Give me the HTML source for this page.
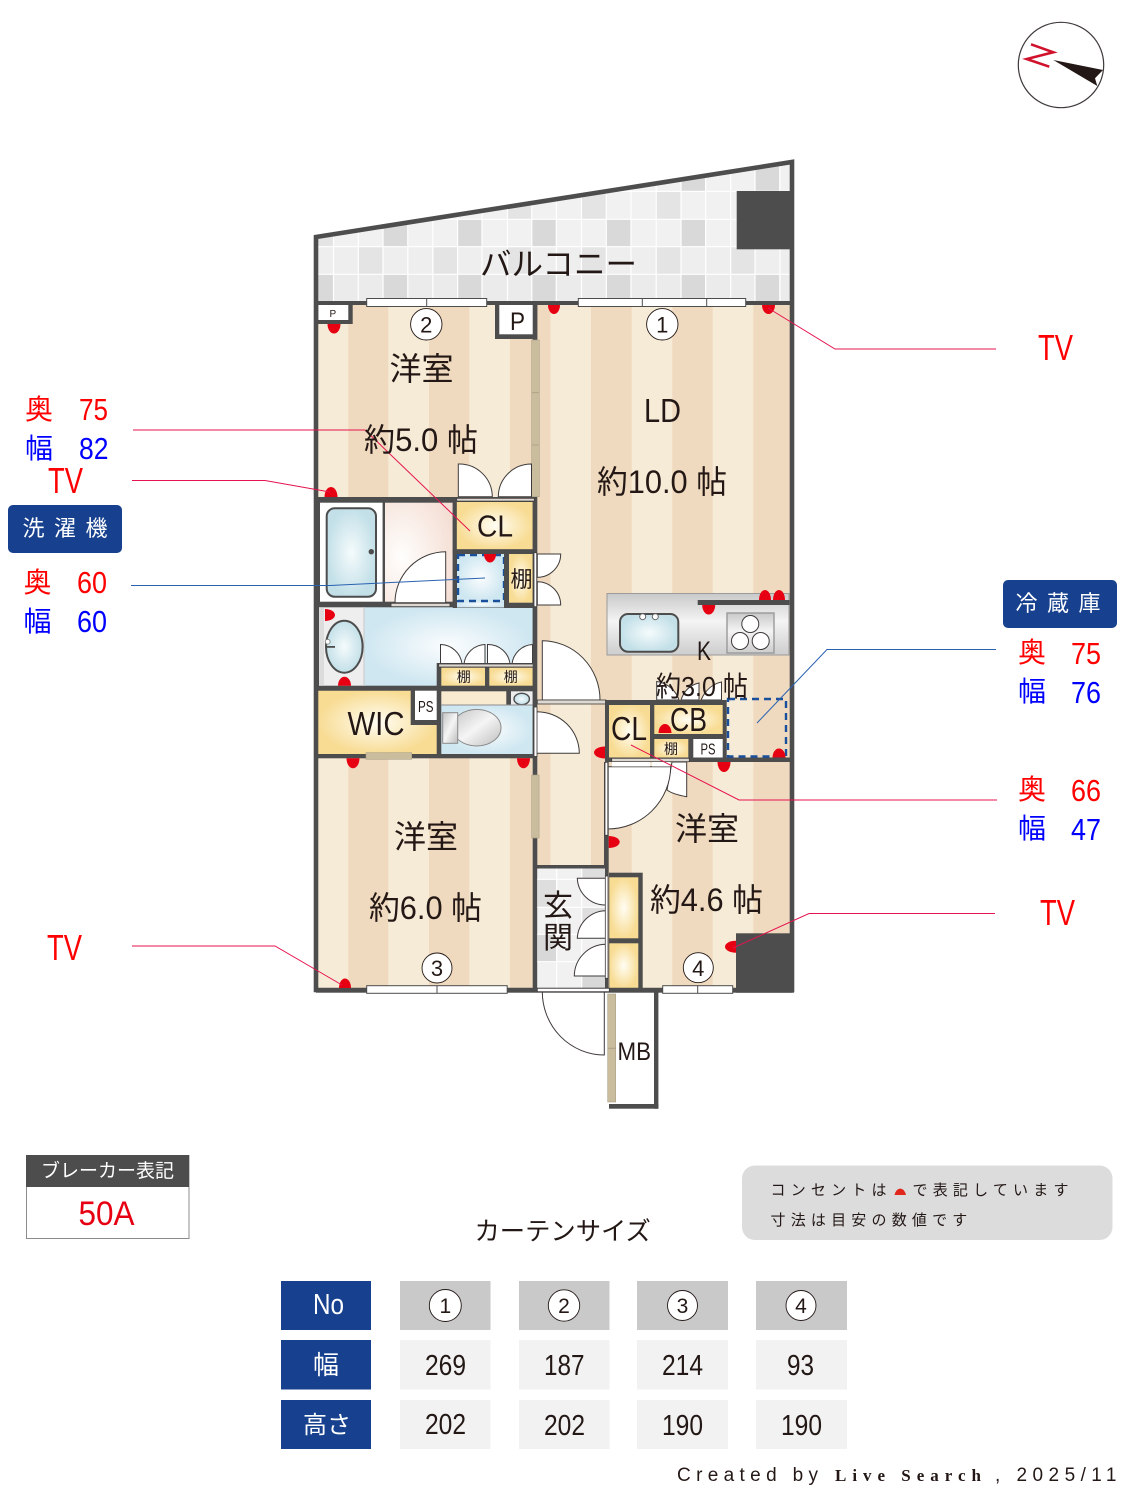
<!DOCTYPE html>
<html lang="ja"><head><meta charset="utf-8"><title>Floor plan</title>
<style>
html,body{margin:0;padding:0;background:#fff}
svg{display:block}
text{font-family:"Liberation Sans","Noto Sans CJK JP",sans-serif;fill:#231815}
.r{fill:#ff0000}.b{fill:#0000ff}.w{fill:#fff}
.door{fill:#fff;stroke:#3e3a39;stroke-width:1}
.sill{fill:#fff;stroke:#3e3a39;stroke-width:.8}
.gs{fill:#ded8d3;stroke:#3e3a39;stroke-width:.8}
.tan{fill:#c9bd9d;stroke:#aaa088;stroke-width:.6}
.win{fill:#fff;stroke:#4d4d4d;stroke-width:1}
.wall{fill:#4d4d4d}
.dot{fill:#e60012}
.ln{fill:none;stroke:#e5134f;stroke-width:1}
.lb{fill:none;stroke:#2a62b0;stroke-width:1}
.dash{fill:none;stroke:#1a4f9c;stroke-width:2.4;stroke-dasharray:7 5}
.cir{fill:#fff;stroke:#231815;stroke-width:.9}
</style></head><body>
<svg xmlns="http://www.w3.org/2000/svg" width="1125" height="1500" viewBox="0 0 1125 1500">
<defs>
<radialGradient id="y"><stop offset="0" stop-color="#fffdf3"/><stop offset="1" stop-color="#f8dc94"/></radialGradient>
<radialGradient id="bl"><stop offset="0" stop-color="#fbfdfe"/><stop offset="1" stop-color="#cfe7f1"/></radialGradient>
<radialGradient id="tb"><stop offset="0" stop-color="#f5fbfc"/><stop offset="1" stop-color="#c3e0e8"/></radialGradient>
<radialGradient id="pk" cx=".25" cy=".55" r=".85"><stop offset="0" stop-color="#fffefd"/><stop offset="1" stop-color="#f4ddd2"/></radialGradient>
<linearGradient id="st" x1="0" y1="0" x2="0" y2="1"><stop offset="0" stop-color="#c9c9ca"/><stop offset=".45" stop-color="#f4f4f4"/><stop offset="1" stop-color="#cdcdce"/></linearGradient>
<linearGradient id="gr" x1="0" y1="0" x2="1" y2="1"><stop offset="0" stop-color="#c4c4c4"/><stop offset=".5" stop-color="#f5f5f5"/><stop offset="1" stop-color="#bdbdbd"/></linearGradient>
<clipPath id="bal"><polygon points="316,237 792,162 792,303 316,303"/></clipPath>
</defs>

<!-- balcony -->
<g clip-path="url(#bal)">
<rect x="316" y="160" width="478" height="145" fill="#f1f1f2"/>
<rect x="316" y="247" width="478" height="27" fill="#eeeeef"/>
<rect x="316" y="274" width="478" height="30" fill="#ebebec"/>
<g fill="#d9d9da">
<rect x="318" y="274.5" width="15" height="27"/><rect x="383.5" y="274.5" width="24" height="27"/><rect x="458" y="274.5" width="24" height="27"/><rect x="532" y="274.5" width="24" height="27"/><rect x="606.5" y="274.5" width="24" height="27"/><rect x="681" y="274.5" width="24" height="27"/><rect x="755" y="274.5" width="24" height="27"/>
<rect x="383.5" y="219.5" width="24" height="27"/><rect x="458" y="219.5" width="24" height="27"/><rect x="532" y="219.5" width="24" height="27"/><rect x="606.5" y="219.5" width="24" height="27"/><rect x="681" y="219.5" width="24" height="27"/>
<rect x="681" y="160" width="24" height="31"/><rect x="755" y="160" width="24" height="31"/>
</g>
<g fill="#e4e4e5">
<rect x="358.5" y="247" width="24" height="27"/><rect x="433.5" y="247" width="24" height="27"/><rect x="508" y="247" width="24" height="27"/><rect x="582" y="247" width="24" height="27"/><rect x="656.5" y="247" width="24" height="27"/><rect x="731" y="247" width="24" height="27"/>
<rect x="508" y="192" width="24" height="27"/><rect x="582" y="192" width="24" height="27"/><rect x="656.5" y="192" width="24" height="27"/>
<rect x="318" y="237" width="15" height="10"/>
</g>
<g stroke="#fff" stroke-width="1.2" fill="none">
<path d="M333.5 160V303M358.3 160V303M383 160V303M407.8 160V303M432.8 160V303M457.6 160V303M482 160V303M507.5 160V303M531.8 160V303M556.3 160V303M581.5 160V303M606.3 160V303M631 160V303M656.2 160V303M681 160V303M705.7 160V303M730.7 160V303M755 160V303M780 160V303"/>
<path d="M316 246.7H792M316 274.3H792M316 219.3H792M316 191.3H792"/>
</g>
</g>

<!-- floor stripes -->
<rect x="316" y="303" width="476" height="687" fill="#f6ebd6"/>
<g fill="#f0dabf">
<rect x="348.3" y="303" width="40" height="687"/><rect x="429" y="303" width="40.3" height="687"/><rect x="510" y="303" width="40.5" height="687"/><rect x="591" y="303" width="40.7" height="687"/><rect x="672.3" y="303" width="40.4" height="687"/><rect x="753.3" y="303" width="38" height="687"/>
</g>

<!-- kitchen -->
<rect x="607" y="593.5" width="182" height="61.5" fill="url(#st)" stroke="#9b9b9b" stroke-width="1"/>
<rect x="697.7" y="600" width="92" height="5" class="wall"/>
<rect x="620" y="614" width="58.3" height="37.7" rx="8" fill="url(#tb)" stroke="#4d4d4d" stroke-width="2"/>
<circle cx="642.7" cy="616.7" r="3" fill="#fff" stroke="#666"/><circle cx="655.3" cy="616.7" r="3" fill="#fff" stroke="#666"/>
<rect x="727" y="613" width="47" height="40" fill="url(#st)" stroke="#999" stroke-width="1.4"/>
<g fill="#fff" stroke="#3e3a39"><circle cx="750.3" cy="624" r="8.5"/><circle cx="740" cy="641" r="8.5"/><circle cx="760.7" cy="641" r="8.5"/></g>

<!-- bath / dressing -->
<rect x="316" y="497" width="221" height="194" class="wall"/>
<rect x="320" y="502.7" width="62.7" height="99" fill="#fff"/>
<rect x="326.7" y="508.3" width="49.3" height="88.4" rx="8" fill="url(#tb)" stroke="#4d4d4d" stroke-width="2"/>
<circle cx="371.3" cy="551.7" r="2.7" fill="#4d4d4d"/>
<rect x="385" y="502.7" width="67.7" height="99" fill="url(#pk)"/>
<path d="M445.7 551.7V602.7H395A51 51 0 0 1 445.7 551.7Z" class="door"/>
<rect x="391" y="603.3" width="59" height="3.4" class="gs"/>
<!-- wash room -->
<rect x="319" y="607.3" width="45" height="78.4" fill="#eeeeef"/>
<rect x="319" y="607.3" width="5" height="78.4" fill="#dcdcdd"/>
<rect x="364" y="607.3" width="168.7" height="78.4" fill="url(#bl)"/>
<line x1="364" y1="607" x2="364" y2="686" stroke="#c8c8c8"/>
<ellipse cx="344.3" cy="646.7" rx="18.3" ry="26" fill="url(#tb)" stroke="#4d4d4d" stroke-width="2"/>
<rect x="326" y="646" width="9" height="1.8" fill="#4d4d4d"/>
<circle cx="327.7" cy="641.7" r="2.4" fill="#fff" stroke="#777" stroke-width=".8"/>
<!-- CL / washer -->
<rect x="456.7" y="502" width="76" height="47.3" fill="url(#y)"/>
<rect x="457" y="554" width="47" height="47" fill="url(#bl)"/>
<rect x="452.7" y="601" width="84" height="7" class="wall"/>
<rect x="457" y="601" width="47" height="6.5" fill="url(#bl)"/>
<rect x="458" y="555" width="46" height="46" class="dash"/>
<rect x="509" y="554" width="23.7" height="48.7" fill="url(#y)"/>
<!-- shelf doors in wash -->
<g class="door">
<path d="M440.5 664V644.5A22 22 0 0 1 462 664Z"/><path d="M485 664V644.5A22 22 0 0 0 464 664Z"/>
<path d="M487.5 664V644.5A22 22 0 0 1 510 664Z"/><path d="M532.5 664V644.5A22 22 0 0 0 512 664Z"/>
</g>
<rect x="436.7" y="663" width="100" height="23" class="wall"/>
<rect x="441.3" y="667.7" width="43.7" height="18" fill="url(#y)"/>
<rect x="489.3" y="667.7" width="43.4" height="18" fill="url(#y)"/>
<rect x="438.7" y="664" width="95.5" height="3" class="gs"/>

<!-- WIC etc -->
<rect x="316" y="686" width="221" height="72.3" class="wall"/>
<polygon points="318,690.7 410.7,690.7 410.7,725 436.7,725 436.7,754 318,754" fill="url(#y)"/>
<rect x="415" y="690.7" width="21.7" height="29.3" fill="#fff"/>
<rect x="366" y="752.7" width="45.7" height="6.6" class="tan"/>
<rect x="441.3" y="691.3" width="65" height="13.7" fill="#f8ebcf"/>
<rect x="511" y="691.3" width="21.7" height="13.7" fill="#ededee"/>
<ellipse cx="521.7" cy="699" rx="7.7" ry="5.7" fill="url(#tb)" stroke="#4d4d4d" stroke-width="1.4"/>
<rect x="441.3" y="705" width="91.4" height="49" fill="url(#bl)"/>
<line x1="441" y1="705" x2="533" y2="705" stroke="#8e8e8e"/>
<ellipse cx="476.7" cy="727.7" rx="24.3" ry="18.3" fill="url(#gr)" stroke="#8a8a8a"/>
<rect x="442.7" y="712.7" width="15" height="30.6" fill="url(#gr)" stroke="#8a8a8a"/>

<!-- room/outer walls -->
<rect x="532.7" y="303" width="4.6" height="687" class="wall"/>
<rect x="531.7" y="340" width="7.6" height="156.7" class="tan"/>
<path d="M531.7 392.7H539.3M531.7 445H539.3" stroke="#aaa088" stroke-width=".8"/>
<g class="door"><path d="M458.3 464A33 33 0 0 1 492.3 496.7H458.3Z"/><path d="M531.5 464A33 33 0 0 0 498.3 496.7H531.5Z"/></g>
<rect x="452.7" y="497" width="84" height="5" class="wall"/>
<rect x="456.7" y="498.3" width="77.6" height="2.8" class="gs"/>
<rect x="452.7" y="549.3" width="84" height="4.7" class="wall"/>
<rect x="504" y="551" width="5" height="56" class="wall"/>
<rect x="452.7" y="497" width="4" height="110" class="wall"/>
<rect x="382.7" y="502" width="2.3" height="100" class="wall"/>
<rect x="534" y="552.7" width="2.7" height="54" class="sill"/>
<g class="door"><path d="M537.3 554H560.7A23.4 23.4 0 0 1 537.3 577.3Z"/><path d="M560.7 605H537.3V581.7A23.4 23.4 0 0 1 560.7 605Z"/></g>
<rect x="531.7" y="775" width="7.4" height="63" class="tan"/>
<!-- hall doors -->
<path d="M542.3 640.7A58 59.3 0 0 1 600 700H542.3Z" class="door"/>
<rect x="537.3" y="700" width="68.7" height="4" class="gs"/>
<path d="M536.7 711.7A42.7 41.6 0 0 1 579.3 753.3H536.7Z" class="door"/>
<rect x="534" y="707" width="3" height="49.5" class="sill"/>

<!-- kitchen closets -->
<path d="M656.7 700V681.5C668 683 676 691 679 700ZM681 700C684 691 690 685 699 683V700ZM701 700C705 691 712 684 721.5 682V700Z" class="door"/>
<rect x="605" y="700" width="121.7" height="62" class="wall"/>
<rect x="609" y="705" width="41" height="52.7" fill="url(#y)"/>
<rect x="654.3" y="705" width="68.4" height="29" fill="url(#y)"/>
<rect x="654.3" y="739" width="34" height="18.7" fill="url(#y)"/>
<rect x="693.3" y="739" width="29.4" height="18.7" fill="#fff"/>
<rect x="605" y="757.5" width="187" height="4.5" class="wall"/>
<rect x="728" y="699" width="58" height="57.5" class="dash"/>
<rect x="611.7" y="758.3" width="77.6" height="3.4" class="gs"/>
<path d="M686.7 762V796.7C677 795 671 793 667 790L672 762Z" class="door"/>
<path d="M607.7 766.7H670.7A63 63 0 0 1 607.7 829Z" class="door"/>
<rect x="612" y="762" width="38" height="4.5" fill="#fff"/><rect x="652" y="762" width="18" height="4.5" fill="#fff"/>
<rect x="604" y="762" width="4.7" height="228" class="wall"/>
<rect x="605" y="762.3" width="2.8" height="73" class="sill"/>

<!-- genkan -->
<rect x="533" y="865" width="75" height="4" class="wall"/>
<rect x="537.3" y="868.5" width="67.7" height="120" fill="#f1f1f2"/>
<g fill="#dedede"><rect x="537.3" y="879.5" width="19.4" height="27.8"/><rect x="581.7" y="868.5" width="23.3" height="10.8"/><rect x="581.7" y="907.3" width="23.3" height="27"/><rect x="537.3" y="934.3" width="19.4" height="27.4" fill="#d8d8d9"/><rect x="581.7" y="961.7" width="23.3" height="26.6" fill="#d8d8d9"/></g>
<path d="M556.7 868.5V988M581.7 868.5V988M537.3 879.3H605M537.3 907.3H605M537.3 934.3H605M537.3 961.7H605" stroke="#fff" stroke-width="1.2" fill="none"/>
<g class="door"><path d="M577.3 878.3H606V905A28 28 0 0 1 577.3 878.3Z"/><path d="M577.3 938.3A29 29 0 0 1 606 910.7V938.3Z"/><path d="M574.3 976A32 32 0 0 1 606 944.3V976Z"/></g>
<rect x="605.3" y="876" width="2.7" height="102.3" class="sill"/>
<rect x="609" y="872.7" width="33.7" height="118" class="wall"/>
<rect x="609.3" y="877.3" width="29" height="61" fill="url(#y)"/>
<rect x="609.3" y="943.3" width="29" height="44.7" fill="url(#y)"/>
<rect x="736" y="933.3" width="58" height="59.4" class="wall"/>

<!-- P boxes -->
<rect x="316" y="303" width="36.7" height="21" class="wall"/>
<rect x="318.3" y="305" width="30" height="15" fill="#fff"/>
<rect x="495" y="303" width="42.3" height="36" class="wall"/>
<rect x="499.3" y="305" width="33.4" height="29.3" fill="#fff"/>

<!-- outer walls -->
<rect x="316" y="301" width="476" height="4" class="wall"/>
<rect x="316" y="988.3" width="476" height="4.4" class="wall"/>
<polygon points="316,237 792,162 792,990 316,990" fill="none" stroke="#4d4d4d" stroke-width="4.6" stroke-linejoin="miter"/>
<rect x="736.7" y="191" width="56" height="58.3" class="wall"/>
<rect x="537.3" y="988.3" width="72" height="3.4" class="sill"/>

<!-- outlets -->
<g class="dot">
<path d="M327.5 324A6.5 9.5 0 0 0 340.5 324Z"/>
<path d="M548 305A6 9 0 0 0 560 305Z"/>
<path d="M762 305A6.5 9 0 0 0 775 305Z"/>
<path d="M346.5 758.3A6.5 10 0 0 0 359.5 758.3Z"/>
<path d="M517 758.3A6.5 10 0 0 0 530 758.3Z"/>
<path d="M484 554A6 8.5 0 0 0 496 554Z"/>
<path d="M717.5 762A6.5 10 0 0 0 730.5 762Z"/>
<path d="M702.2 605A6.5 9.5 0 0 0 715.2 605Z"/>
<path d="M324.5 497A6.5 10 0 0 1 337.5 497Z"/>
<path d="M339 988A6 9.5 0 0 1 351 988Z"/>
<path d="M759 600A6 10 0 0 1 771 600Z"/>
<path d="M773 600A6 10 0 0 1 785 600Z"/>
<path d="M772.5 757.5A6.5 9 0 0 1 785.5 757.5Z"/>
<path d="M338 685.7A6.5 9 0 0 1 351 685.7Z"/>
<path d="M658.5 733A6.5 9 0 0 1 671.5 733Z"/>
<path d="M605 746.5A11 6 0 0 0 605 758.5Z"/>
<path d="M736 940.7A11 6 0 0 0 736 952.7Z"/>
<path d="M608.7 836A11 6 0 0 1 608.7 848Z"/>
<path d="M325 609A10 6 0 0 1 325 621Z"/>
</g>

<!-- windows -->
<rect x="366.7" y="298.5" width="120" height="8" class="win"/><path d="M426.7 298.5V306.5" stroke="#4d4d4d"/>
<rect x="578.3" y="298.5" width="167.4" height="8" class="win"/><path d="M642.3 298.5V306.5M706.7 298.5V306.5" stroke="#4d4d4d"/>
<rect x="366.7" y="985.7" width="140.5" height="7.6" class="win"/><path d="M437 985.7V993.3" stroke="#4d4d4d"/>
<rect x="662.7" y="985.7" width="70" height="7.6" class="win"/><path d="M697.7 985.7V993.3" stroke="#4d4d4d"/>

<!-- entrance, MB -->
<path d="M542.3 991.7A62 63.3 0 0 0 604.3 1055V991.7" fill="none" stroke="#3e3a39" stroke-width="1"/>
<rect x="654" y="990" width="4.4" height="118.7" class="wall"/>
<rect x="609" y="1104" width="49.4" height="4.7" class="wall"/>
<rect x="607.7" y="994" width="8" height="108" class="tan"/><path d="M607.7 1048.3H615.7" stroke="#aaa088"/>

<!-- leader lines -->
<polyline class="ln" points="768,308 835,349 996,349"/>
<polyline class="ln" points="133,430 365,430 470,531"/>
<polyline class="ln" points="132,480.5 265,480.5 330,492"/>
<polyline class="lb" points="131,585.5 330,585.5 485,578"/>
<polyline class="lb" points="996,649.5 827,649.5 757,723"/>
<polyline class="ln" points="997,800 739,800 631,745"/>
<polyline class="ln" points="995,913.5 809,913.5 733,948"/>
<polyline class="ln" points="132,946 275,946 342,985"/>

<!-- circles -->
<circle cx="426.3" cy="324.3" r="15.7" class="cir"/><circle cx="662.3" cy="324.3" r="15.7" class="cir"/>
<circle cx="437" cy="968" r="15" class="cir"/><circle cx="698.3" cy="967.7" r="15" class="cir"/>
<g font-size="22" text-anchor="middle"><text x="426.3" y="332.5">2</text><text x="662.3" y="332.5">1</text><text x="437" y="976">3</text><text x="698.3" y="976">4</text></g>

<!-- plan labels -->
<text x="480" y="275" font-size="31.5" textLength="157">バルコニー</text>
<text x="329.5" y="317" font-size="10">P</text>
<text x="510" y="330" font-size="25" textLength="15" lengthAdjust="spacingAndGlyphs">P</text>
<text x="389.5" y="380" font-size="32">洋室</text>
<text x="364" y="451" font-size="32" textLength="114" lengthAdjust="spacingAndGlyphs">約5.0 帖</text>
<text x="644" y="422" font-size="33" textLength="37" lengthAdjust="spacingAndGlyphs">LD</text>
<text x="597" y="493" font-size="32" textLength="130" lengthAdjust="spacingAndGlyphs">約10.0 帖</text>
<text x="477" y="536.5" font-size="31" textLength="36" lengthAdjust="spacingAndGlyphs">CL</text>
<text x="510.5" y="587" font-size="22">棚</text>
<text x="456.7" y="682" font-size="14">棚</text><text x="503.7" y="682" font-size="14">棚</text>
<text x="347.5" y="735" font-size="33" textLength="57" lengthAdjust="spacingAndGlyphs">WIC</text>
<text x="418" y="712" font-size="16" textLength="15.5" lengthAdjust="spacingAndGlyphs">PS</text>
<text x="697" y="660" font-size="27" textLength="14" lengthAdjust="spacingAndGlyphs">K</text>
<text x="656" y="696" font-size="28" textLength="92" lengthAdjust="spacingAndGlyphs">約3.0 帖</text>
<text x="611" y="740" font-size="33" textLength="36" lengthAdjust="spacingAndGlyphs">CL</text>
<text x="670" y="731" font-size="33" textLength="37" lengthAdjust="spacingAndGlyphs">CB</text>
<text x="664" y="754" font-size="14">棚</text>
<text x="700.5" y="754.7" font-size="16" textLength="15" lengthAdjust="spacingAndGlyphs">PS</text>
<text x="675" y="840" font-size="32">洋室</text>
<text x="650" y="911" font-size="32" textLength="113" lengthAdjust="spacingAndGlyphs">約4.6 帖</text>
<text x="394" y="848" font-size="32">洋室</text>
<text x="369" y="919" font-size="32" textLength="113" lengthAdjust="spacingAndGlyphs">約6.0 帖</text>
<text x="543" y="916" font-size="30">玄</text><text x="543" y="948" font-size="30">関</text>
<text x="617.5" y="1060" font-size="25" textLength="33.5" lengthAdjust="spacingAndGlyphs">MB</text>

<!-- side labels -->
<g font-size="28">
<text class="r" x="25" y="419">奥</text><text class="b" x="25" y="458">幅</text>
<text class="r" x="23.5" y="592">奥</text><text class="b" x="23.5" y="631">幅</text>
<text class="r" x="1018" y="662">奥</text><text class="b" x="1018" y="701">幅</text>
<text class="r" x="1018" y="799">奥</text><text class="b" x="1018" y="838">幅</text>
</g>
<g font-size="31">
<text class="r" x="79" y="420" textLength="29" lengthAdjust="spacingAndGlyphs">75</text>
<text class="b" x="79" y="459" textLength="29.5" lengthAdjust="spacingAndGlyphs">82</text>
<text class="r" x="77" y="593" textLength="30" lengthAdjust="spacingAndGlyphs">60</text>
<text class="b" x="77" y="632" textLength="30" lengthAdjust="spacingAndGlyphs">60</text>
<text class="r" x="1071" y="664" textLength="30" lengthAdjust="spacingAndGlyphs">75</text>
<text class="b" x="1071" y="703" textLength="30" lengthAdjust="spacingAndGlyphs">76</text>
<text class="r" x="1071" y="801" textLength="30" lengthAdjust="spacingAndGlyphs">66</text>
<text class="b" x="1071" y="840" textLength="30" lengthAdjust="spacingAndGlyphs">47</text>
</g>
<g font-size="36">
<text class="r" x="48" y="493" textLength="35" lengthAdjust="spacingAndGlyphs">TV</text>
<text class="r" x="1038" y="360" textLength="35" lengthAdjust="spacingAndGlyphs">TV</text>
<text class="r" x="47" y="960" textLength="35" lengthAdjust="spacingAndGlyphs">TV</text>
<text class="r" x="1040" y="925" textLength="35" lengthAdjust="spacingAndGlyphs">TV</text>
</g>
<rect x="8" y="505" width="114" height="48" rx="5" fill="#17418e"/>
<text class="w" x="22.5" y="536" font-size="22" letter-spacing="9.5">洗濯機</text>
<rect x="1003" y="580" width="114" height="48" rx="5" fill="#17418e"/>
<text class="w" x="1015.5" y="611" font-size="22" letter-spacing="9.5">冷蔵庫</text>

<!-- compass -->
<circle cx="1061" cy="65" r="42.7" fill="#fff" stroke="#3e3a39" stroke-width="1.2"/>
<polyline points="1031,44.3 1053.3,52.3 1026.7,59 1049.3,66.7" fill="none" stroke="#d0122c" stroke-width="2.6"/>
<polygon points="1053.3,60 1103,70 1095,78.3 1097.3,86" fill="#231815"/>

<!-- breaker -->
<rect x="26.5" y="1155.5" width="162.5" height="83" fill="#fff" stroke="#8c8c8c"/>
<rect x="26" y="1155" width="163" height="32" fill="#4d4d4d"/>
<text class="w" x="41" y="1177" font-size="19">ブレーカー表記</text>
<text x="78.5" y="1225" font-size="34" textLength="56" lengthAdjust="spacingAndGlyphs" style="fill:#e60012">50A</text>

<!-- note -->
<rect x="742" y="1165.5" width="370.5" height="74.5" rx="13" fill="#dcdcdd"/>
<text x="770.5" y="1195" font-size="15" letter-spacing="5.2">コンセントは</text>
<path d="M894.5 1195A6 9 0 0 1 906 1195Z" fill="#e1261c"/>
<text x="912.5" y="1195" font-size="15" letter-spacing="5.2">で表記しています</text>
<text x="770.5" y="1225" font-size="15" letter-spacing="5.2">寸法は目安の数値です</text>

<text x="474.5" y="1240" font-size="25.3">カーテンサイズ</text>

<!-- table -->
<g fill="#17418e"><rect x="281" y="1281" width="90" height="49"/><rect x="281" y="1340" width="90" height="49.5"/><rect x="281" y="1400" width="90" height="49"/></g>
<g fill="#c9c9ca"><rect x="400" y="1281" width="90.5" height="49"/><rect x="519" y="1281" width="90.5" height="49"/><rect x="637" y="1281" width="91" height="49"/><rect x="756" y="1281" width="91" height="49"/></g>
<g fill="#f2f2f2"><rect x="400" y="1340" width="90.5" height="49.5"/><rect x="519" y="1340" width="90.5" height="49.5"/><rect x="637" y="1340" width="91" height="49.5"/><rect x="756" y="1340" width="91" height="49.5"/>
<rect x="400" y="1400" width="90.5" height="49"/><rect x="519" y="1400" width="90.5" height="49"/><rect x="637" y="1400" width="91" height="49"/><rect x="756" y="1400" width="91" height="49"/></g>
<text class="w" x="313" y="1314" font-size="29" textLength="31" lengthAdjust="spacingAndGlyphs">No</text>
<text class="w" x="313" y="1374" font-size="26">幅</text>
<text class="w" x="303" y="1433" font-size="24">高さ</text>
<circle cx="445.3" cy="1305.5" r="16" class="cir"/><circle cx="564" cy="1305.5" r="15.7" class="cir"/><circle cx="682.5" cy="1305.5" r="15" class="cir"/><circle cx="801" cy="1305.5" r="15" class="cir"/>
<g font-size="21" text-anchor="middle"><text x="445.3" y="1313">1</text><text x="564" y="1313">2</text><text x="682.5" y="1313">3</text><text x="801" y="1313">4</text></g>
<g font-size="29" style="fill:#000">
<text x="425" y="1375" textLength="41" lengthAdjust="spacingAndGlyphs">269</text>
<text x="544" y="1375" textLength="40.5" lengthAdjust="spacingAndGlyphs">187</text>
<text x="662" y="1375" textLength="41" lengthAdjust="spacingAndGlyphs">214</text>
<text x="787" y="1375" textLength="27" lengthAdjust="spacingAndGlyphs">93</text>
<text x="425" y="1434" textLength="41" lengthAdjust="spacingAndGlyphs">202</text>
<text x="544" y="1435" textLength="41" lengthAdjust="spacingAndGlyphs">202</text>
<text x="662" y="1435" textLength="41" lengthAdjust="spacingAndGlyphs">190</text>
<text x="781" y="1435" textLength="41" lengthAdjust="spacingAndGlyphs">190</text>
</g>

<text x="677" y="1481" font-size="19" textLength="141">Created by</text>
<text x="835" y="1481" font-size="17" font-weight="bold" textLength="146" style="font-family:'Liberation Serif',serif">Live Search</text>
<text x="995" y="1481" font-size="19">,</text>
<text x="1016.5" y="1481" font-size="19" textLength="100">2025/11</text>
</svg>
</body></html>
